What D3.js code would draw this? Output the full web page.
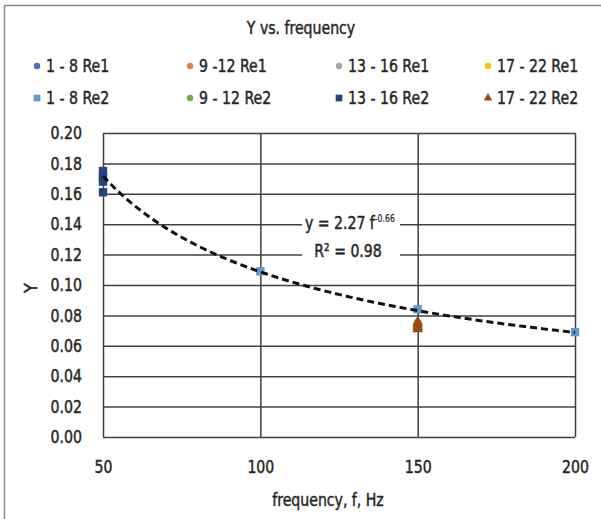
<!DOCTYPE html>
<html><head><meta charset="utf-8">
<script src="https://cdn.jsdelivr.net/npm/d3@7"></script>
<style>
body{margin:0;background:#fff;}
text{font-family:"DejaVu Sans Condensed","Liberation Sans Narrow",sans-serif;fill:#262626;stroke:#262626;stroke-width:0.45px;}
</style></head><body>
<svg id="c" width="601" height="519"></svg>
<script>
const xTicks=[50,100,150,200];
const yTicks=[0,0.02,0.04,0.06,0.08,0.10,0.12,0.14,0.16,0.18,0.20];
const seriesNames=["1 - 8 Re1","9 -12 Re1","13 - 16 Re1","17 - 22 Re1","1 - 8 Re2","9 - 12 Re2","13 - 16 Re2","17 - 22 Re2"];
const seriesColors=["#4472C4","#ED7D31","#A5A5A5","#FFC000","#5B9BD5","#70AD47","#264478","#9E480E"];
const seriesShapes=["circle","circle","circle","circle","square","circle","square","triangle"];
const s1Re1=[[50,0.170]];
const s9Re1=[[150,0.073]];
const s13Re1=[[150,0.074]];
const s17Re1=[[150,0.072]];
const s1Re2=[[50,0.171],[100,0.109],[150,0.084],[200,0.069]];
const s9Re2=[[150,0.075]];
const s13Re2=[[50,0.161],[50,0.168],[50,0.171],[50,0.175]];
const s17Re2=[[150,0.071],[150,0.0725],[150,0.074],[150,0.0755]];
const seriesData=[s1Re1,s9Re1,s13Re1,s17Re1,s1Re2,s9Re2,s13Re2,s17Re2];
const fitA=2.27, fitB=-0.66;
const fitX=d3.range(50,200.1,2);

const svg=d3.select("#c");
svg.append("rect").attr("x",4.5).attr("y",5.5).attr("width",620).attr("height",540).attr("fill","#fff").attr("stroke","#8c8c8c").attr("stroke-width",1.5);

const L=103,R=575,T=133,B=437;
const x=d3.scaleLinear().domain([50,200]).range([L,R]);
const y=d3.scaleLinear().domain([0,0.2]).range([B,T]);
const FS=18;

const g=svg.append("g");
g.append("g").attr("transform",`translate(0,${B})`).call(d3.axisBottom(x).tickValues(xTicks).tickSize(-(B-T)).tickFormat(d3.format("d")).tickPadding(23))
 .call(a=>{a.select(".domain").remove();a.selectAll("line").attr("stroke","#404040").attr("stroke-width",1.5);a.selectAll("text").attr("font-size",FS);});
g.append("g").attr("transform",`translate(${L},0)`).call(d3.axisLeft(y).tickValues(yTicks).tickSize(-(R-L)).tickFormat(d3.format(".2f")).tickPadding(21))
 .call(a=>{a.select(".domain").remove();a.selectAll("line").attr("stroke","#404040").attr("stroke-width",1.5);a.selectAll("text").attr("font-size",FS);});

// equation label background
svg.append("rect").attr("x",302).attr("y",207).attr("width",98).attr("height",54).attr("fill","#fff");

const sym={circle:d3.symbolCircle,square:d3.symbolSquare,triangle:d3.symbolTriangle};
const sizes={circle:50,square:70,triangle:50};
seriesData.forEach((data,i)=>{
  svg.append("g").selectAll("path").data(data).join("path")
   .attr("transform",d=>`translate(${x(d[0])},${y(d[1])})`)
   .attr("d",d3.symbol(sym[seriesShapes[i]],sizes[seriesShapes[i]]))
   .attr("fill",seriesColors[i]);
});

svg.append("path").datum(fitX).attr("fill","none").attr("stroke","#111").attr("stroke-width",3).attr("stroke-dasharray","7,4")
 .attr("d",d3.line().x(d=>x(d)).y(d=>y(fitA*Math.pow(d,fitB))));

const eq=svg.append("text").attr("class","eq").attr("transform","translate(350,229) scale(0.87,1)").attr("text-anchor","middle").attr("font-size",FS);
eq.append("tspan").text("y = 2.27 f");
eq.append("tspan").attr("dy",-7).attr("font-size",10).style("stroke-width","0.2px").text("-0.66");
svg.append("text").attr("x",348).attr("y",257).attr("text-anchor","middle").attr("font-size",FS).text("R² = 0.98");

svg.append("text").attr("x",301).attr("y",34).attr("text-anchor","middle").attr("font-size",FS).text("Y vs. frequency");

const colX=[37,190,339,488];
seriesNames.forEach((n,i)=>{
  const cx=colX[i%4], cy=i<4?66:98;
  svg.append("path").attr("transform",`translate(${cx},${cy})`).attr("d",d3.symbol(sym[seriesShapes[i]],seriesShapes[i]==="square"?45:32)).attr("fill",seriesColors[i]);
  svg.append("text").attr("x",cx+9).attr("y",cy+6).attr("font-size",FS).text(n);
});

svg.append("text").attr("transform","translate(37,288) rotate(-90)").attr("text-anchor","middle").attr("font-size",FS).text("Y");
svg.append("text").attr("x",328).attr("y",506).attr("text-anchor","middle").attr("font-size",FS).text("frequency, f, Hz");

// condense glyphs horizontally to mimic the narrow reference face
svg.selectAll("text:not(.eq)").each(function(){
  const w=this.getComputedTextLength();
  if(w>12){this.setAttribute("textLength",(w*0.87).toFixed(1));this.setAttribute("lengthAdjust","spacingAndGlyphs");}
});
</script></body></html>
